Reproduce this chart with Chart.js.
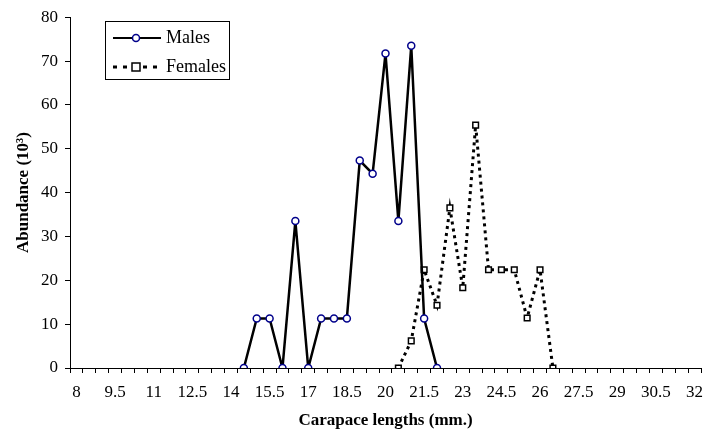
<!DOCTYPE html>
<html>
<head>
<meta charset="utf-8">
<script src="https://cdn.jsdelivr.net/npm/chart.js@4"></script>
<style>
  body { margin: 0; background: #fff; }
</style>
</head>
<body>
<canvas id="myChart" width="707" height="437"></canvas>
<script>
// x axis categories (carapace length, mm)
const lengths = ['8', '8.5', '9', '9.5', '10', '10.5', '11', '11.5', '12', '12.5',
    '13', '13.5', '14', '14.5', '15', '15.5', '16', '16.5', '17', '17.5',
    '18', '18.5', '19', '19.5', '20', '20.5', '21', '21.5', '22', '22.5',
    '23', '23.5', '24', '24.5', '25', '25.5', '26', '26.5', '27', '27.5',
    '28', '28.5', '29', '29.5', '30', '30.5', '31', '31.5', '32'];

// males
const maleLengths = ['14.5', '15', '15.5', '16', '16.5', '17', '17.5', '18',
    '18.5', '19', '19.5', '20', '20.5', '21', '21.5', '22'];
const maleValues = [0, 11.3, 11.3, 0, 33.5, 0, 11.3, 11.3,
    11.3, 47.3, 44.3, 71.7, 33.5, 73.5, 11.3, 0];

// females
const femaleLengths = ['20.5', '21', '21.5', '22', '22.5', '23', '23.5',
    '24', '24.5', '25', '25.5', '26', '26.5'];
const femaleValues = [0, 6.2, 22.4, 14.3, 36.5, 18.3, 55.4,
    22.4, 22.4, 22.4, 11.4, 22.4, 0];

const yTicks = [0, 10, 20, 30, 40, 50, 60, 70, 80];

const serif = "'Liberation Serif', 'Times New Roman', serif";
const femaleDash = [3, 4];

// legend drawn inside the plot, like the original
const boxLegend = {
    id: 'boxLegend',
    afterDraw(chart) {
        const ctx = chart.ctx;
        ctx.save();
        ctx.strokeStyle = '#000';
        ctx.lineWidth = 1;
        ctx.strokeRect(105.5, 21.5, 124, 58);

        // Males
        ctx.beginPath();
        ctx.lineWidth = 2;
        ctx.setLineDash([]);
        ctx.moveTo(113, 38);
        ctx.lineTo(161, 38);
        ctx.stroke();
        ctx.beginPath();
        ctx.arc(136, 38, 3.5, 0, Math.PI * 2);
        ctx.fillStyle = '#fff';
        ctx.fill();
        ctx.lineWidth = 1.5;
        ctx.strokeStyle = '#00008b';
        ctx.stroke();

        // Females
        ctx.beginPath();
        ctx.strokeStyle = '#000';
        ctx.lineWidth = 3;
        ctx.setLineDash([4, 6]);
        ctx.moveTo(113, 67);
        ctx.lineTo(161, 67);
        ctx.stroke();
        ctx.setLineDash([]);
        ctx.fillStyle = '#fff';
        ctx.fillRect(132, 63, 8, 8);
        ctx.lineWidth = 1.5;
        ctx.strokeRect(132, 63, 8, 8);

        ctx.fillStyle = '#000';
        ctx.font = '18px ' + serif;
        ctx.textBaseline = 'middle';
        ctx.fillText('Males', 166, 38);
        ctx.fillText('Females', 166, 67);
        ctx.restore();
    }
};

const ctx = document.getElementById('myChart').getContext('2d');
const chart = new Chart(ctx, {
    type: 'line',
    data: {
        labels: lengths,
        datasets: [{
            label: 'Males',
            data: maleLengths.map((x, i) => ({ x: x, y: maleValues[i] })),
            borderColor: '#000',
            borderWidth: 2.5,
            tension: 0,
            pointStyle: 'circle',
            pointRadius: 3.5,
            pointBorderWidth: 1.5,
            pointBorderColor: '#00008b',
            pointBackgroundColor: '#fff'
        }, {
            label: 'Females',
            data: femaleLengths.map((x, i) => ({ x: x, y: femaleValues[i] })),
            borderColor: '#000',
            borderWidth: 3,
            borderDash: femaleDash,
            tension: 0,
            pointStyle: 'rect',
            pointRadius: 4,
            pointBorderWidth: 1.5,
            pointBorderColor: '#000',
            pointBackgroundColor: '#fff'
        }]
    },
    options: {
        responsive: false,
        animation: false,
        layout: { padding: { top: 13, right: 6, left: 0, bottom: 0 } },
        plugins: {
            legend: { display: false },
            tooltip: { enabled: false }
        },
        scales: {
            x: {
                type: 'category',
                offset: true,
                border: { color: '#000', width: 1 },
                grid: {
                    offset: true,
                    drawOnChartArea: false,
                    drawTicks: true,
                    tickLength: 5,
                    color: '#000'
                },
                ticks: {
                    autoSkip: false,
                    maxRotation: 0,
                    padding: 9,
                    color: '#000',
                    font: { family: serif, size: 17 },
                    callback: function (value, index) {
                        return index % 3 === 0 ? lengths[index] : '';
                    }
                },
                title: {
                    display: true,
                    text: 'Carapace lengths (mm.)',
                    color: '#000',
                    font: { family: serif, size: 17, weight: 'bold' },
                    padding: { top: 0, bottom: 6 }
                },
                afterFit: function (scale) {
                    scale.height = 69;
                    scale.paddingLeft = 0;
                    scale.paddingRight = 0;
                }
            },
            y: {
                min: yTicks[0],
                max: yTicks[yTicks.length - 1],
                border: { color: '#000', width: 1 },
                grid: {
                    drawOnChartArea: false,
                    drawTicks: true,
                    tickLength: 5,
                    color: '#000'
                },
                afterBuildTicks: function (scale) {
                    scale.ticks = yTicks.map(v => ({ value: v }));
                },
                ticks: {
                    padding: 7,
                    color: '#000',
                    font: { family: serif, size: 17 }
                },
                title: {
                    display: true,
                    text: 'Abundance (10³)',
                    color: '#000',
                    font: { family: serif, size: 17, weight: 'bold' },
                    padding: { top: 13, bottom: 0 }
                },
                afterFit: function (scale) { scale.width = 70; }
            }
        }
    },
    plugins: [boxLegend]
});
</script>
</body>
</html>
